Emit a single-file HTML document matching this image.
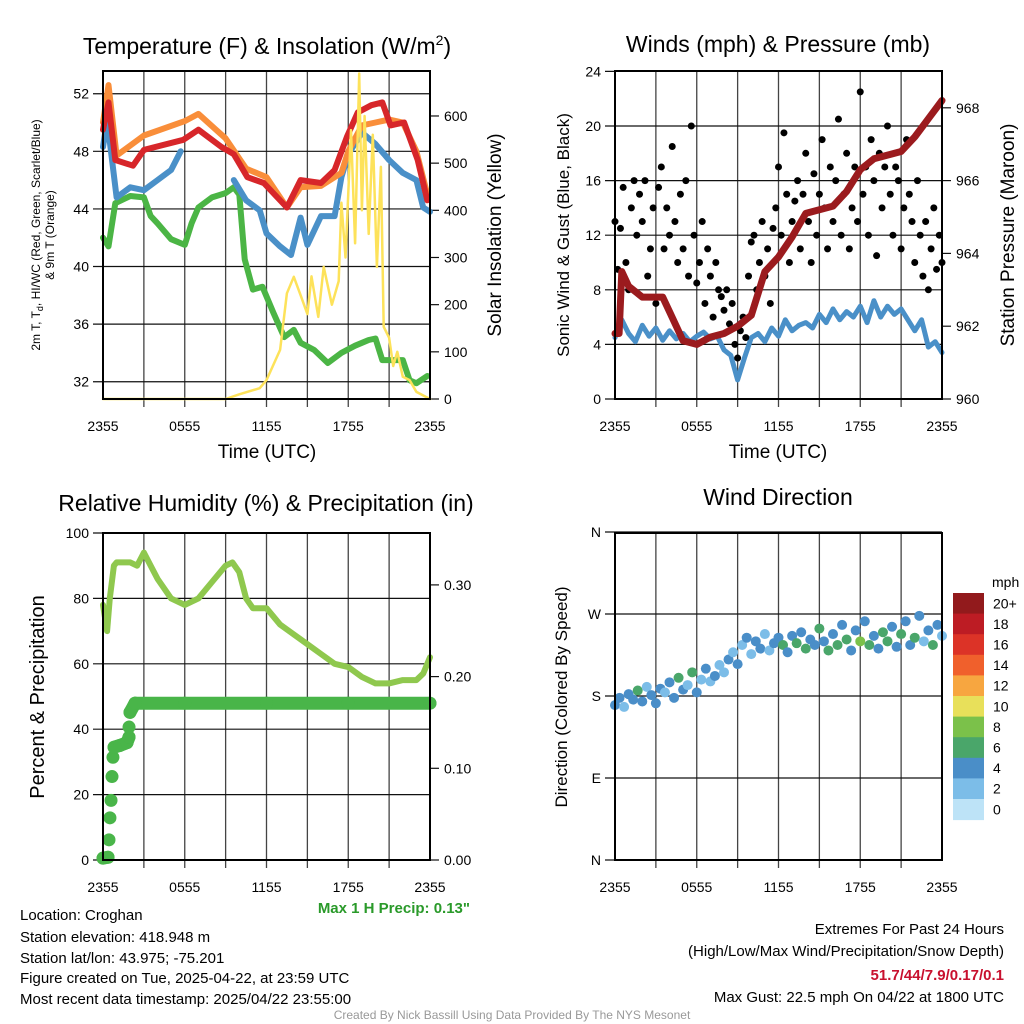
<!DOCTYPE html>
<html><head><meta charset="utf-8"><style>
html,body{margin:0;padding:0;background:#fff}
svg{display:block;font-family:"Liberation Sans",sans-serif}
</style></head><body>
<svg id="chart" width="1024" height="1024" viewBox="0 0 1024 1024" xmlns="http://www.w3.org/2000/svg">
<rect x="0" y="0" width="1024" height="1024" fill="#fff"/>
<text x="267" y="54" font-size="23" text-anchor="middle">Temperature (F) &amp; Insolation (W/m<tspan dy="-9" font-size="14">2</tspan><tspan dy="9">)</tspan></text>
<text x="778" y="52" font-size="23" text-anchor="middle">Winds (mph) &amp; Pressure (mb)</text>
<text x="266" y="511" font-size="23" text-anchor="middle">Relative Humidity (%) &amp; Precipitation (in)</text>
<text x="778" y="505" font-size="23" text-anchor="middle">Wind Direction</text>

<text transform="translate(40,235) rotate(-90)" font-size="12" text-anchor="middle">2m T, T<tspan dy="3" font-size="9">d</tspan><tspan dy="-3">, HI/WC (Red, Green, Scarlet/Blue)</tspan></text>
<text transform="translate(54,235) rotate(-90)" font-size="12" text-anchor="middle">&amp; 9m T (Orange)</text>
<text transform="translate(501,235) rotate(-90)" font-size="19" text-anchor="middle">Solar Insolation (Yellow)</text>
<text x="267" y="458" font-size="19" text-anchor="middle">Time (UTC)</text>
<text transform="translate(569,235) rotate(-90)" font-size="17" text-anchor="middle">Sonic Wind &amp; Gust (Blue, Black)</text>
<text transform="translate(1014,235) rotate(-90)" font-size="19" text-anchor="middle">Station Pressure (Maroon)</text>
<text x="778" y="458" font-size="19" text-anchor="middle">Time (UTC)</text>
<text transform="translate(44,697) rotate(-90)" font-size="20" text-anchor="middle">Percent &amp; Precipitation</text>
<text transform="translate(567,697) rotate(-90)" font-size="17" text-anchor="middle">Direction (Colored By Speed)</text>
<text x="470" y="913" font-size="15" font-weight="bold" fill="#2a9a2a" text-anchor="end">Max 1 H Precip: 0.13"</text>

<g font-size="15">
<text x="20" y="920">Location: Croghan</text>
<text x="20" y="942">Station elevation: 418.948 m</text>
<text x="20" y="963">Station lat/lon: 43.975; -75.201</text>
<text x="20" y="983">Figure created on Tue, 2025-04-22, at 23:59 UTC</text>
<text x="20" y="1004">Most recent data timestamp: 2025/04/22 23:55:00</text>
</g>
<g font-size="15" text-anchor="end">
<text x="1004" y="934">Extremes For Past 24 Hours</text>
<text x="1004" y="956">(High/Low/Max Wind/Precipitation/Snow Depth)</text>
<text x="1004" y="980" font-weight="bold" fill="#c8102e">51.7/44/7.9/0.17/0.1</text>
<text x="1004" y="1002">Max Gust: 22.5 mph On 04/22 at 1800 UTC</text>
</g>
<text x="512" y="1019" font-size="12" fill="#999" text-anchor="middle">Created By Nick Bassill Using Data Provided By The NYS Mesonet</text>
<g id="layer"></g>
</svg>
<script>
// ---------- data ----------
const xTickLabels = ["2355","0555","1155","1755","2355"];
const tempTicks = [32,36,40,44,48,52];
const solarTicks = [0,100,200,300,400,500,600];
const windTicks = [0,4,8,12,16,20,24];
const pressTicks = [960,962,964,966,968];
const rhTicks = [0,20,40,60,80,100];
const precipTicks = [0,0.1,0.2,0.3];
const precipTickLabels = ["0.00","0.10","0.20","0.30"];
const dirTicks = [0,90,180,270,360];
const dirTickLabels = ["N","E","S","W","N"];
const speedBins = ["0","2","4","6","8","10","12","14","16","18","20+"];
const speedColors = ["#bde3f7","#7cbde8","#4a8ec8","#4aa66a","#7bc14a","#e8e05a","#f7a640","#f0602c","#dc3327","#bd1c24","#921a1c"];

const tHours = [0,0.4,0.9,2.2,3,5.9,7,8.7,9.6,10.6,11.8,13.5,14.5,16,17,17.9,18.7,19.7,20.5,21.1,22.1,23.1,23.8];
const tempRed = [49.5,51.4,47.4,47,48.1,48.8,49.5,48.3,47.8,46.2,45.8,44.1,46,45.8,46.7,49,50.7,51.2,51.4,49.8,50,47.4,44.6];
const orHours = [0,0.4,1,3,6,7,9,10.5,12,13.5,14.5,16,17.5,18,19,20,21,22,23,23.8];
const tempOrange = [50,52.6,47.7,49.1,50.1,50.6,48.9,46.8,46.2,44.1,45.5,45.6,46.5,48,49.8,50,50.2,50,48,45];
const blHours = [0,0.3,1,2,3,4,5,5.7,7,9.6,10.5,11.5,12,13,13.8,14.5,15,16,17,17.5,18,19,20,21,22,23,23.5,24];
const tempBlue = [48.3,50.2,44.8,45.5,45.3,46,46.7,48,null,46,44.6,43.9,42.3,41.4,40.8,43.4,41.5,43.5,43.5,46.2,47.8,49.3,48.5,47.4,46.5,46,44.1,43.8];
const grHours = [0,0.4,0.9,2,3,3.5,4,5,6,6.5,7,8,9,9.6,10,10.4,11,11.7,12.5,13.3,14,14.5,15.5,16.5,17.5,18.5,19.5,20,20.5,21.5,22,22.5,23,23.8];
const tempGreen = [42,41.4,44.4,44.9,44.8,43.5,43,41.9,41.5,43,44.1,44.8,45.1,45.5,45,40.5,38.4,38.6,36.8,35.1,35.6,34.7,34.2,33.3,34,34.5,34.9,35,33.5,33.5,33.5,32.1,31.9,32.4];
const solHours = [0,9,10,11.5,12,13,13.5,14,14.5,15,15.3,15.8,16.2,16.8,17.3,17.5,17.8,18.2,18.5,18.8,19,19.2,19.5,19.8,20.1,20.4,20.6,21,21.3,21.6,22,22.5,23,24];
const solar = [0,0,10,23,40,104,224,259,220,180,260,174,280,200,250,416,300,570,330,690,400,600,350,560,280,492,153,130,70,100,47,40,15,0];

const windHours = [0,0.5,1,1.5,2,2.5,3,3.5,4,4.5,5,5.5,6,6.5,7,7.5,8,8.5,9,9.5,10,10.5,11,11.5,12,12.5,13,13.5,14,14.5,15,15.5,16,16.5,17,17.5,18,18.5,19,19.5,20,20.5,21,21.5,22,22.5,23,23.5,24];
const windSpeed = [4.5,5.8,4.8,4.2,5.4,4.6,5.2,4.3,5,4.4,4.8,4.2,4.6,4.9,4.4,4.6,3.6,3.2,1.4,3,4.5,4.8,4.2,5.2,4.6,5.8,5,5.4,5.6,5.2,6.2,5.6,6.6,5.8,6.4,6,6.8,5.6,7.2,6,6.8,6.2,6.6,5.8,5,5.8,3.8,4.2,3.4];
const pressHours = [0,0.3,0.5,1,2,3.5,4,5,6,7,8,9,10,11,12,13,14,15,16,17,18,19,20,21,22,23,24];
const pressure = [961.8,961.8,963.5,963.1,962.8,962.8,962.4,961.6,961.5,961.7,961.8,962,962.3,963.5,963.9,964.45,965.1,965.2,965.3,965.7,966.3,966.6,966.7,966.8,967.2,967.7,968.2];
const gusts = [13,9.5,12.5,15.5,10,8,14,16,12,15,13,16,9,11,14,7,15.5,17,11,14,12,18.5,13,10,15,11,16,9,20,12,8.5,10,13,7,11,9,6,10,8,7.5,6.5,8,5.5,7,4,3,5,6,4.5,9,11.5,12,8,10,13,9,11,7,12.5,14,17,12,19.5,15,10,13,14.5,16,11,15,18,13,10,16.5,12,15,19,14,11,17,13,16,20.5,12,15,18,11,14,17,13,22.5,15,17,12,19,16,10.5,18,14,17,20,15,12,17,16,11,14,19,15,13,10,16,12,9,13,8,11,14,9.5,12,10];

const rhHours = [0,0.3,0.5,0.8,1,2,2.5,3,3.5,4,5,6,7,8,9,9.5,10,10.5,11,12,13,14,15,16,17,18,19,20,21,22,23,23.5,24];
const rh = [78,70,80,90,91,91,90,94,90,86,80,78,80,85,90,91,88,80,77,77,72,69,66,63,60,59,56,54,54,55,55,57,62];
const precipHours = [0,0.37,0.44,0.51,0.59,0.66,0.73,0.81,1.25,1.76,1.91,1.91,1.98,2.35,6,12,18,24];
const precip = [0.002,0.003,0.022,0.046,0.065,0.091,0.112,0.123,0.125,0.128,0.134,0.145,0.161,0.171,0.171,0.171,0.171,0.171];

const dirDeg = [170,178,168,182,176,186,174,190,181,172,188,184,195,178,200,187,192,206,184,198,210,196,202,214,206,220,228,215,236,244,226,240,232,248,230,238,244,236,228,246,238,250,232,242,236,254,240,230,248,236,258,242,230,252,240,262,236,246,232,250,240,256,234,248,262,236,244,268,240,252,236,258,246];
const dirSpeed = [5,5,3,5,5,7,5,3,5,5,5,3,5,5,7,5,3,7,5,3,5,3,5,3,3,5,3,5,3,5,3,5,5,3,3,5,5,7,5,5,7,5,7,5,5,7,5,7,5,7,5,7,5,5,8,5,7,5,5,7,7,5,5,7,5,5,7,5,3,5,7,5,3];

// ---------- axes ----------
const P = {L1:103,R1:430,L2:615,R2:942,T1:71,B1:399,T2:533,B2:860};
const hx = 13.625;
const x1 = t => P.L1 + t*hx;
const x2 = t => P.L2 + t*hx;
const yT = v => 399 - (v-30.8)*14.4;
const yS = v => 399 - v*0.4717;
const yW = v => 399 - v*13.65;
const yP = v => 399 - (v-960)*36.4;
const yRH = v => 860 - v*3.27;
const yPr = v => 860 - v*917;
const yD = v => 860 - v*0.9111;

const NS='http://www.w3.org/2000/svg';
const layer=document.getElementById('layer');
function el(tag, attrs, parent){const e=document.createElementNS(NS,tag);for(const k in attrs)e.setAttribute(k,attrs[k]);(parent||layer).appendChild(e);return e;}

function panelFrame(L,R,T,B,key){
  for(let h=3;h<24;h+=3){
    const g=el('line',{x1:L+h*hx,x2:L+h*hx,y1:T,y2:B+8,stroke:'#444','stroke-width':1.3});
    
    
  }
  xTickLabels.forEach((s,i)=>{
    const t=el('text',{x:L+i*6*hx,y:B+32,'font-size':14,'text-anchor':'middle'});
    t.textContent=s;
    
    
  });
}
function hGrid(L,R,vals,yf,key,labels){
  vals.forEach((v,i)=>{
    const g=el('line',{x1:L-10,x2:R,y1:yf(v),y2:yf(v),stroke:'#111','stroke-width':1.2});
    
    
    const t=el('text',{x:L-14,y:yf(v)+5,'font-size':14,'text-anchor':'end'});
    t.textContent=labels?labels[i]:v;
    
    
  });
}
function rAxis(R,vals,yf,key,labels){
  vals.forEach((v,i)=>{
    const g=el('line',{x1:R,x2:R+9,y1:yf(v),y2:yf(v),stroke:'#111','stroke-width':1.2});
    
    
    const t=el('text',{x:R+14,y:yf(v)+5,'font-size':14});
    t.textContent=labels?labels[i]:v;
    
    
  });
}
function box(L,R,T,B,key){
  const b=el('rect',{x:L,y:T,width:R-L,height:B-T,fill:'none',stroke:'#000','stroke-width':2});
  
  
}
function line(xs,ys,xf,yf,color,w,name){
  let d='';let pen=false;
  xs.forEach((t,i)=>{const v=ys[i];if(v===null){pen=false;return;}d+=(pen?'L':'M')+xf(t).toFixed(1)+','+yf(v).toFixed(1);pen=true;});
  const p=el('path',{d:d,fill:'none',stroke:color,'stroke-width':w,'stroke-linejoin':'round','stroke-linecap':'round'});
  
  
}

// Panel 1
panelFrame(P.L1,P.R1,P.T1,P.B1,'temp');
hGrid(P.L1,P.R1,tempTicks,yT,'temp');
rAxis(P.R1,solarTicks,yS,'solar');
line(grHours,tempGreen,x1,yT,'#4bb545',6,'dewpoint-line');
line(blHours,tempBlue,x1,yT,'#4a90c8',6,'windchill-line');
line(orHours,tempOrange,x1,yT,'#f98e3a',6,'temp-9m-line');
line(tHours,tempRed,x1,yT,'#d7262a',6,'temp-2m-line');
line(solHours,solar,x1,yS,'#fde25a',2.5,'insolation-line');
box(P.L1,P.R1,P.T1,P.B1,'temp');

// Panel 2
panelFrame(P.L2,P.R2,P.T1,P.B1,'wind');
hGrid(P.L2,P.R2,windTicks,yW,'wind');
rAxis(P.R2,pressTicks,yP,'pressure');
line(windHours,windSpeed,x2,yW,'#4a90c8',5,'wind-speed-line');
gusts.forEach((g,i)=>{
  const c=el('circle',{cx:x2(i*0.2),cy:yW(g),r:3.5,fill:'#000'});
  
  
});
line(pressHours,pressure,x2,yP,'#9b1b1e',7,'pressure-line');
box(P.L2,P.R2,P.T1,P.B1,'wind');

// Panel 3
panelFrame(P.L1,P.R1,P.T2,P.B2,'rh');
hGrid(P.L1,P.R1,rhTicks,yRH,'rh');
rAxis(P.R1,precipTicks,yPr,'precip',precipTickLabels);
line(rhHours,rh,x1,yRH,'#8fc84e',6,'humidity-line');
for(let i=1;i<precipHours.length;i++){
  if(Math.abs(yPr(precip[i])-yPr(precip[i-1]))<10){
    const s=el('line',{x1:x1(precipHours[i-1]),y1:yPr(precip[i-1]),x2:x1(precipHours[i]),y2:yPr(precip[i]),stroke:'#49b549','stroke-width':13,'stroke-linecap':'round'});
    
    
  }
}
precipHours.forEach((t,i)=>{
  const c=el('circle',{cx:x1(t),cy:yPr(precip[i]),r:6.5,fill:'#49b549'});
  
  
});
box(P.L1,P.R1,P.T2,P.B2,'rh');

// Panel 4
panelFrame(P.L2,P.R2,P.T2,P.B2,'dir');
hGrid(P.L2,P.R2,dirTicks,yD,'dir',dirTickLabels);
dirDeg.forEach((d,i)=>{
  const bin=Math.min(10,Math.floor(dirSpeed[i]/2));
  const c=el('circle',{cx:x2(i/3),cy:yD(d),r:5,fill:speedColors[bin]});
  
  
});
box(P.L2,P.R2,P.T2,P.B2,'dir');

// colorbar
const cbTop=593, cbH=20.6;
speedBins.forEach((s,i)=>{
  const k=speedBins.length-1-i;
  const r=el('rect',{x:953,y:cbTop+i*cbH,width:31,height:cbH+0.5,fill:speedColors[k]});
  
  
  const t=el('text',{x:993,y:cbTop+i*cbH+cbH/2+5,'font-size':14});
  t.textContent=speedBins[k];
  
  
});
const mph=el('text',{x:992,y:587,'font-size':14});
mph.textContent='mph';


</script>
</body></html>
